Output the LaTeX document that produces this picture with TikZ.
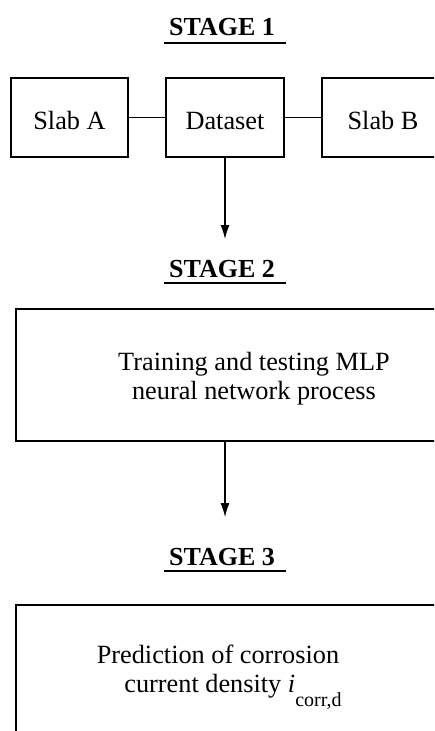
\documentclass[tikz,border=0pt]{standalone}
\usepackage{fontspec}
\setmainfont{Liberation Serif}
\usetikzlibrary{arrows.meta}
\begin{document}
\begin{tikzpicture}[x=1pt,y=-1pt,
  every node/.style={font=\fontsize{26.3}{29}\selectfont},
  stagebox/.style={draw, line width=2pt, inner sep=0pt, minimum height=79pt,
    text height=24pt, text depth=0pt},
  stagetitle/.style={font=\fontsize{26}{29}\selectfont\bfseries, inner sep=0pt},
  titlerule/.style={line width=1.8pt},
  link/.style={line width=0.9pt},
  flow/.style={line width=1.2pt, -{Latex[length=14pt,width=9pt]}},
  body/.style={align=center, inner sep=0pt}]
\useasboundingbox (0,0) rectangle (434,731);
\clip (0,0) rectangle (434,731);

% Stage 1: the two slabs feeding the dataset
\node[stagetitle] (t1) at (222,27) {STAGE 1};
\draw[titlerule] (164,43) coordinate (u1a) -- (286,43) coordinate (u1b);
\node[stagebox, minimum width=117pt] (slabA) at (69.5,117.5) {Slab A};
\node[stagebox, minimum width=118pt] (data) at (225,117.5) {Dataset};
\node[stagebox, minimum width=122pt] (slabB) at (383,117.5) {Slab B};
\draw[link] (slabA.east) -- (data.west);
\draw[link] (data.east) -- (slabB.west);
\coordinate (a1) at (225,239);
\draw[flow] (data.south) -- (a1);

% Stage 2: network training
\node[stagetitle] (t2) at (222,269) {STAGE 2};
\draw[titlerule] (164,283) coordinate (u2a) -- (286,283) coordinate (u2b);
\node[draw, line width=2pt, minimum width=454pt, minimum height=132pt] (box2) at (243,375) {};
\node[body] (txt2) at (254,379) {Training and testing MLP\\neural network process};
\coordinate (b2) at (225,441);
\coordinate (a2) at (225,517);
\draw[flow] (b2) -- (a2);

% Stage 3: prediction
\node[stagetitle] (t3) at (222,557) {STAGE 3};
\draw[titlerule] (164,571) coordinate (u3a) -- (286,571) coordinate (u3b);
\node[draw, line width=2pt, minimum width=454pt, minimum height=200pt] (box3) at (243,705) {};
\node[body] (txt3) at (218,677) {Prediction of corrosion\\\hspace*{30pt}current density \textit{i}\raisebox{-14pt}{\fontsize{20}{20}\selectfont corr,d}};
\end{tikzpicture}
\end{document}
